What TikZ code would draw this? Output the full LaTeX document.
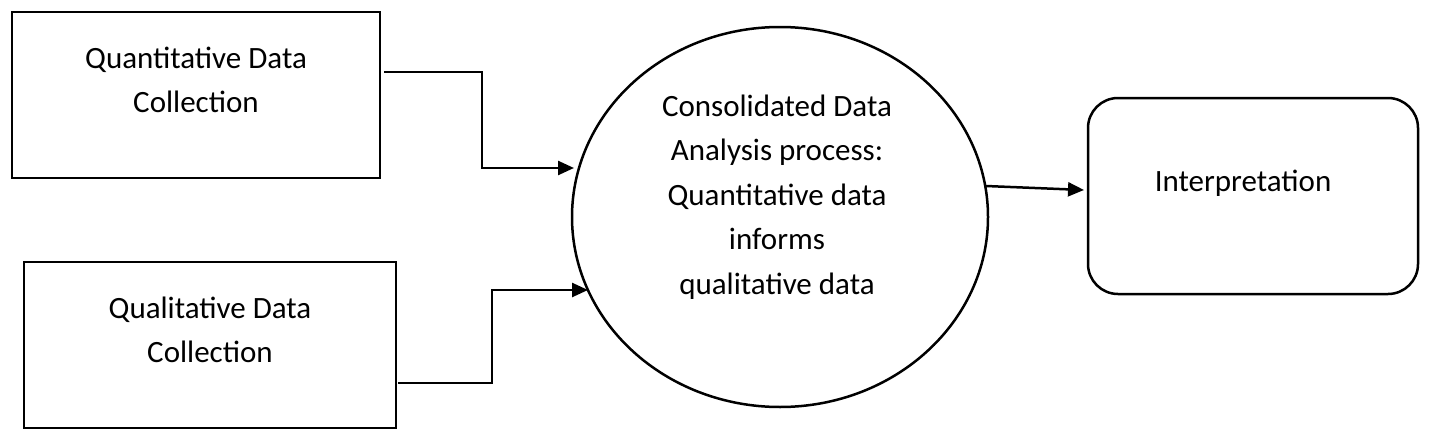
\documentclass[tikz,border=0pt]{standalone}
\usepackage{fontspec}
\setmainfont{Carlito}
\usetikzlibrary{arrows.meta}
\begin{document}
\begin{tikzpicture}[x=1pt,y=-1pt,
  lbl/.style={align=center,font=\fontsize{31}{44.5}\selectfont},
  conn/.style={line width=2.5pt,-{Triangle[length=16pt,width=14pt]}},
  bx/.style={draw,line width=2.5pt}]
\useasboundingbox (0,0) rectangle (1429,439);
\draw[bx] (12,12) rectangle (380,178);
\node[lbl] (qn) at (196,80) {Quantitative Data\\Collection};
\draw[bx] (24,262) rectangle (396,428);
\node[lbl] (ql) at (210,330) {Qualitative Data\\Collection};
\draw[bx] (780,217) ellipse [x radius=208,y radius=190];
\node[lbl] (an) at (777,197) {Consolidated Data\\Analysis process:\\Quantitative data\\informs\\qualitative data};
\draw[bx,rounded corners=30pt] (1088,98) rectangle (1418,294);
\node[lbl] (in) at (1243,183) {Interpretation};
\coordinate (a1) at (384,72); \coordinate (e1) at (574,168);
\coordinate (a2) at (398,383); \coordinate (e2) at (588,290);
\coordinate (a3) at (986,186); \coordinate (e3) at (1084,190);
\draw[conn] (a1) -- (482,72) -- (482,168) -- (e1);
\draw[conn] (a2) -- (492,383) -- (492,290) -- (e2);
\draw[conn] (a3) -- (e3);
\end{tikzpicture}
\end{document}
